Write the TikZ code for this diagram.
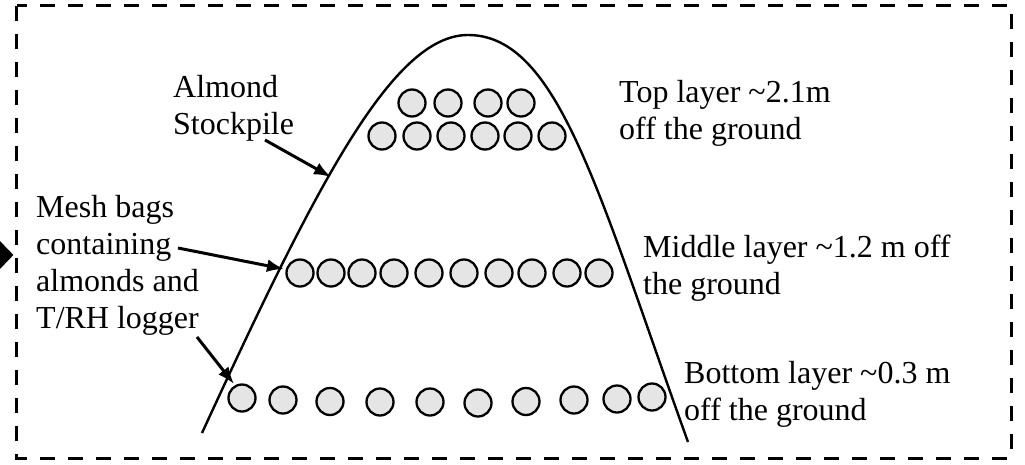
\documentclass[tikz,border=0pt]{standalone}
\usepackage{fontspec}
\setmainfont{Liberation Serif}
\usetikzlibrary{arrows.meta,shapes.geometric}
\begin{document}
\begin{tikzpicture}[x=1pt,y=-1pt,
  bag/.style={circle,draw=black,fill=black!10,line width=2.3pt,minimum size=27pt,inner sep=0pt},
  lbl/.style={anchor=north west,inner sep=0pt,align=left,font=\fontsize{32}{37}\selectfont},
  pointer/.style={line width=3pt,-{Latex[length=17pt,width=13pt]}},
  pile/.style={line width=2.4pt,line join=round}]

\useasboundingbox (0,0) rectangle (1025,464);

% dashed frame
\draw[line width=3pt,dash pattern=on 15pt off 13pt] (16.5,5.5) rectangle (1011,458);

% edge marker on the left
\node[diamond,fill=black,minimum width=27pt,minimum height=28pt,inner sep=0pt] (marker) at (0,255) {};

% outline of the stockpile: two cubic arcs meeting at the crest
\coordinate (footL) at (202,433);
\coordinate (crest) at (468,35);
\coordinate (footR) at (688,442);
\draw[pile] (footL) .. controls (317,183) and (393,35) .. (crest)
                    .. controls (558,35) and (598,192) .. (footR);

% mesh bags: top layer
\foreach \x [count=\i] in {412,448,488,521}
  \node[bag] (t\i) at (\x,103) {};
\foreach \x [count=\i] in {382,417,451,485,518,552}
  \node[bag] (u\i) at (\x,136) {};

% middle layer
\foreach \x [count=\i] in {300,331,362,394,429,464,499,532,567,599}
  \node[bag] (m\i) at (\x,273) {};

% bottom layer
\foreach \x/\y [count=\i] in {242/398,283/400,330/401.5,380/402,430/402,478/403,526/401.5,574/400,617/399,652/397}
  \node[bag] (b\i) at (\x,\y) {};

% labels
\node[lbl] (stock) at (173,75) {Almond\\Stockpile};
\node[lbl] (mesh) at (36,195) {Mesh bags\\containing\\almonds and\\T/RH logger};
\node[lbl] (toplbl) at (619,80) {Top layer \textasciitilde2.1m\\off the ground};
\node[lbl] (midlbl) at (643,235) {Middle layer \textasciitilde1.2 m off\\the ground};
\node[lbl] (botlbl) at (684,361) {Bottom layer \textasciitilde0.3 m\\off the ground};

% pointers
\coordinate (stockFrom) at (265,140);
\coordinate (stockTo) at (331,177);
\coordinate (meshFrom) at (178,248);
\coordinate (meshTo) at (284,269);
\coordinate (logFrom) at (197,337);
\coordinate (logTo) at (234,384);
\draw[pointer] (stockFrom) -- (stockTo);
\draw[pointer] (meshFrom) -- (meshTo);
\draw[pointer] (logFrom) -- (logTo);
\end{tikzpicture}
\end{document}
